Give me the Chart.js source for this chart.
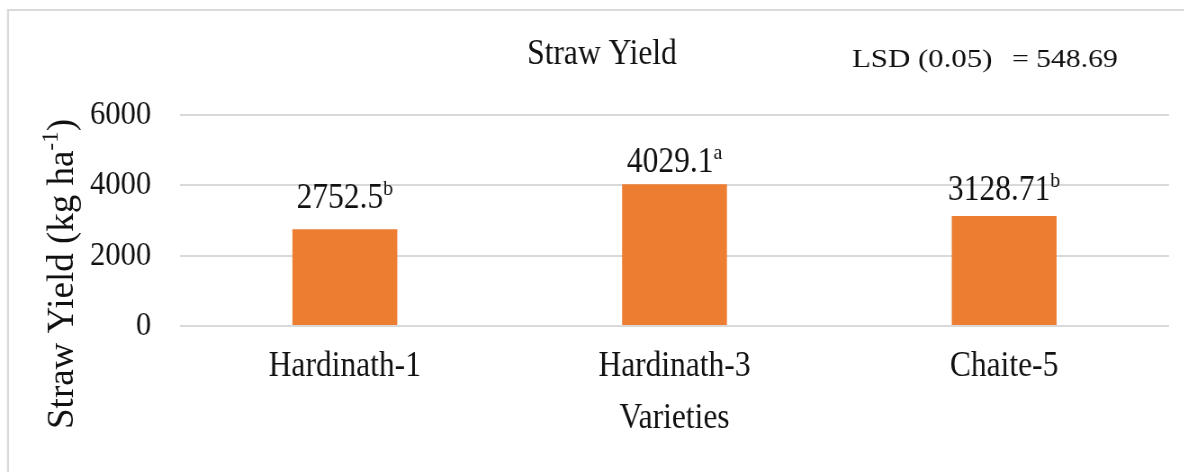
<!DOCTYPE html>
<html>
<head>
<meta charset="utf-8">
<script src="https://cdn.jsdelivr.net/npm/chart.js@4/dist/chart.umd.min.js"></script>
<style>
  html, body { margin: 0; padding: 0; background: #fff; overflow: hidden; }
  #wrap { width: 1184px; height: 472px; overflow: hidden; position: relative; }
  /* the drawing is made on a wider canvas and squeezed horizontally, giving the narrow serif look */
  #c { position: absolute; left: 0; top: 0; transform: scaleX(0.9); transform-origin: 0 0; }
</style>
</head>
<body>
<div id="wrap"><canvas id="c" width="1316" height="472" style="width:1316px;height:472px"></canvas></div>
<script>
// ---- data ----
const varieties = ['Hardinath-1', 'Hardinath-3', 'Chaite-5'];
const strawYield = [2752.5, 4029.1, 3128.71];
const lsdGroups = ['b', 'a', 'b'];
const yTicks = [0, 2000, 4000, 6000];
const chartTitle = 'Straw Yield';
const lsdLabel = 'LSD (0.05)';
const lsdValue = '= 548.69';
const yTitleMain = 'Straw Yield (kg ha';
const yTitleSup = '-1';
const yTitleEnd = ')';
const xTitle = 'Varieties';

// ---- geometry helpers ----
const SQUEEZE = 0.9;                 // matches the CSS scaleX above
const CW = 1316, CH = 472;           // canvas size before squeezing
const fx = px => px / SQUEEZE;       // page x -> canvas x
const SERIF = "'Liberation Serif', 'Times New Roman', serif";
const INK = '#111111';
const GRID = '#d9d9d9';
const BAR = '#ED7D31';

// light frame along the top and left edges
const framePlugin = {
  id: 'frame',
  beforeDraw(chart) {
    const ctx = chart.ctx;
    ctx.save();
    ctx.fillStyle = GRID;
    ctx.fillRect(fx(7), 9, CW, 2);
    ctx.fillRect(fx(7), 9, fx(2), CH);
    ctx.restore();
  }
};

// value labels with significance letters as superscripts
const valueLabelPlugin = {
  id: 'valueLabels',
  afterDatasetsDraw(chart, args, opts) {
    const ctx = chart.ctx;
    const meta = chart.getDatasetMeta(0);
    const size = opts.size, supSize = opts.supSize;
    ctx.save();
    ctx.fillStyle = INK;
    meta.data.forEach((bar, i) => {
      const main = String(strawYield[i]);
      const sup = lsdGroups[i];
      ctx.font = `${size}px ${SERIF}`;
      const w1 = ctx.measureText(main).width;
      ctx.font = `${supSize}px ${SERIF}`;
      const w2 = ctx.measureText(sup).width;
      const x0 = bar.x - (w1 + w2) / 2;
      const baseline = bar.y - opts.lift[i] + size * 0.33;
      ctx.textAlign = 'left';
      ctx.textBaseline = 'alphabetic';
      ctx.font = `${size}px ${SERIF}`;
      ctx.fillText(main, x0, baseline);
      ctx.font = `${supSize}px ${SERIF}`;
      ctx.fillText(sup, x0 + w1, baseline - size * 0.36);
    });
    ctx.restore();
  }
};

// chart heading, LSD note and rotated y-axis title
const textPlugin = {
  id: 'texts',
  afterDraw(chart) {
    const ctx = chart.ctx;
    ctx.save();
    ctx.fillStyle = INK;

    ctx.font = `35px ${SERIF}`;
    ctx.textAlign = 'center';
    ctx.textBaseline = 'middle';
    ctx.fillText(chartTitle, fx(602), 55);

    // LSD note is set a little wider than the rest of the text
    ctx.font = `25px ${SERIF}`;
    ctx.textAlign = 'left';
    ctx.save();
    ctx.translate(fx(852), 60);
    ctx.scale(1.37, 1);
    ctx.fillText(lsdLabel, 0, 0);
    ctx.restore();
    ctx.save();
    ctx.translate(fx(1012), 60);
    ctx.scale(1.32, 1);
    ctx.fillText(lsdValue, 0, 0);
    ctx.restore();

    // y-axis title with superscript, drawn at natural proportions
    const fs = 37, ss = 23;
    ctx.save();
    ctx.translate(fx(63), 274);
    ctx.scale(1 / SQUEEZE, 1);
    ctx.rotate(-Math.PI / 2);
    ctx.textBaseline = 'middle';
    ctx.textAlign = 'left';
    ctx.font = `${fs}px ${SERIF}`;
    const a = ctx.measureText(yTitleMain).width;
    const c = ctx.measureText(yTitleEnd).width;
    ctx.font = `${ss}px ${SERIF}`;
    const b = ctx.measureText(yTitleSup).width;
    let x = -(a + b + c) / 2;
    ctx.font = `${fs}px ${SERIF}`;
    ctx.fillText(yTitleMain, x, 0);
    x += a;
    ctx.font = `${ss}px ${SERIF}`;
    ctx.fillText(yTitleSup, x, -fs * 0.3);
    x += b;
    ctx.font = `${fs}px ${SERIF}`;
    ctx.fillText(yTitleEnd, x, 0);
    ctx.restore();

    ctx.restore();
  }
};

new Chart(document.getElementById('c'), {
  type: 'bar',
  data: {
    labels: varieties,
    datasets: [{
      label: chartTitle,
      data: strawYield,
      backgroundColor: BAR,
      borderWidth: 0,
      barPercentage: 0.318,
      categoryPercentage: 1
    }]
  },
  options: {
    responsive: false,
    animation: false,
    devicePixelRatio: 1,
    layout: { padding: { left: 0, right: CW - fx(1169), top: 115, bottom: 26 } },
    font: { family: SERIF },
    scales: {
      x: {
        grid: { display: false, drawTicks: false },
        border: { display: false },
        ticks: { color: INK, font: { family: SERIF, size: 35 }, padding: 20 },
        title: {
          display: true, text: xTitle, color: INK,
          font: { family: SERIF, size: 35 }, padding: { top: 0, bottom: 6 }
        },
        afterFit(s) { s.height = 120; }
      },
      y: {
        min: yTicks[0],
        max: yTicks[yTicks.length - 1],
        afterBuildTicks(s) { s.ticks = yTicks.map(v => ({ value: v })); },
        grid: { color: GRID, lineWidth: 2, drawTicks: false },
        border: { display: false },
        ticks: {
          color: INK, font: { family: SERIF, size: 34 }, padding: 32,
          callback: v => String(v)
        },
        afterFit(s) { s.width = fx(180); }
      }
    },
    plugins: {
      legend: { display: false },
      tooltip: { enabled: false },
      title: { display: false },
      valueLabels: { size: 35, supSize: 22, lift: [33, 24, 28] }
    }
  },
  plugins: [framePlugin, valueLabelPlugin, textPlugin]
});
</script>
</body>
</html>
